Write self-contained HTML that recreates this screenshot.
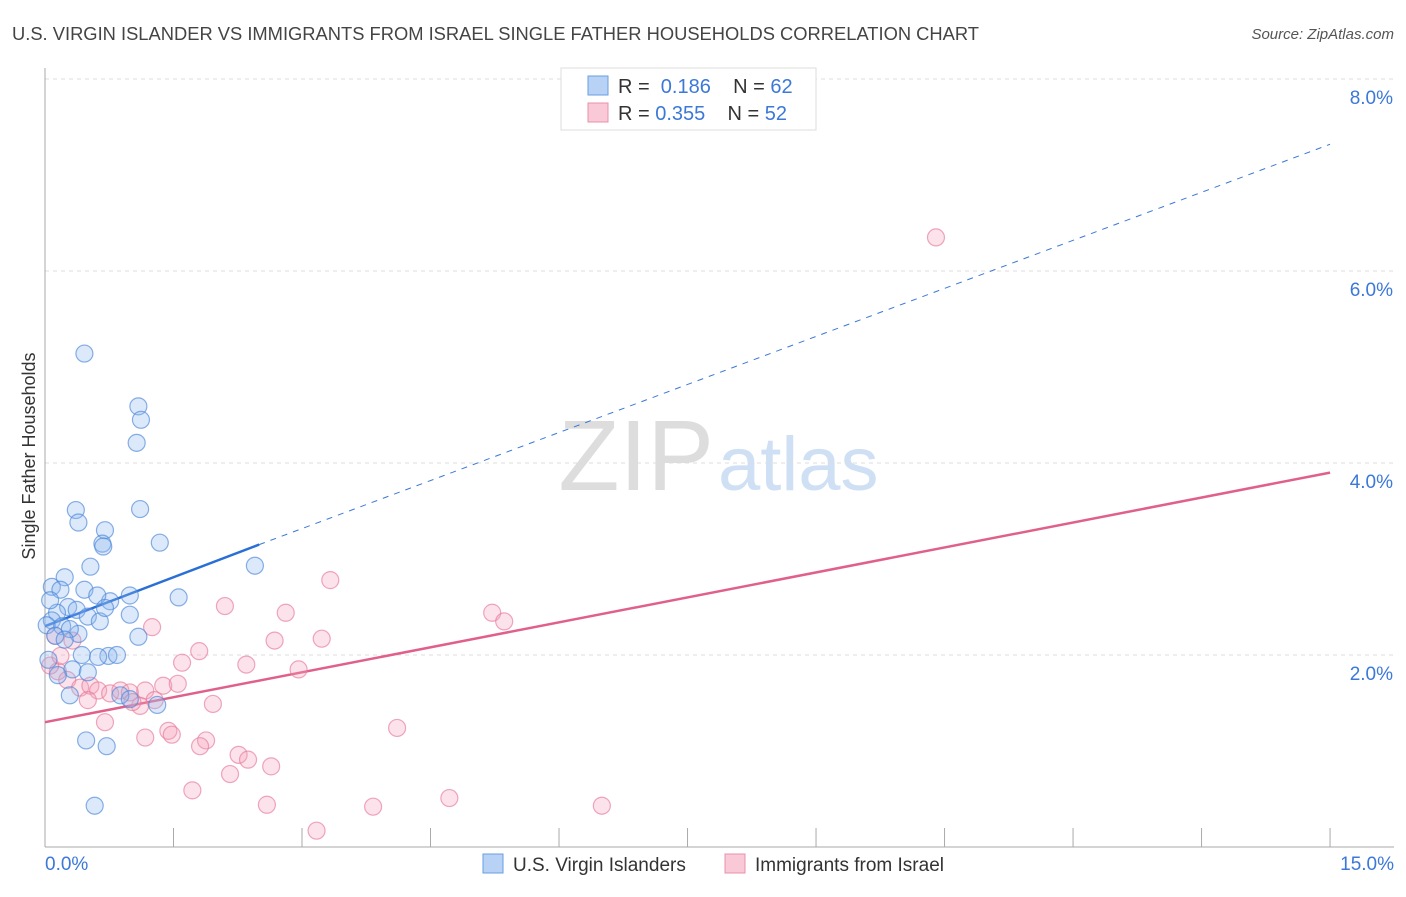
<!DOCTYPE html>
<html><head><meta charset="utf-8"><style>
body{margin:0;background:#fff;font-family:"Liberation Sans",sans-serif;}
svg text{font-family:"Liberation Sans",sans-serif;}
</style></head><body>
<svg id="chart" width="1406" height="892">
<text x="12" y="40" font-size="18" fill="#444" textLength="967" lengthAdjust="spacingAndGlyphs">U.S. VIRGIN ISLANDER VS IMMIGRANTS FROM ISRAEL SINGLE FATHER HOUSEHOLDS CORRELATION CHART</text>
<text x="1394" y="39" font-size="15" fill="#555" font-style="italic" text-anchor="end">Source: ZipAtlas.com</text>
<text x="35" y="456" font-size="18" fill="#333" transform="rotate(-90 35 456)" text-anchor="middle">Single Father Households</text>
<text x="714" y="490" font-size="100" fill="#ddd" text-anchor="end" font-family="Liberation Serif">ZIP</text>
<text x="718" y="490" font-size="76" fill="#cfe0f5">atlas</text>
<g id="grid"></g><g id="axes"></g><g id="lines"></g><g id="pts"></g>
<g>
<rect x="561" y="68" width="255" height="62" fill="#fff" stroke="#ddd"/>
<rect x="588" y="76" width="20" height="19" fill="#b8d2f5" stroke="#6a9ee0"/>
<text x="618" y="93" font-size="20" fill="#333">R = <tspan fill="#3b78d8">&#160;0.186</tspan>&#160;&#160;&#160;&#160;N = <tspan fill="#3b78d8">62</tspan></text>
<rect x="588" y="103" width="20" height="19" fill="#f9c9d7" stroke="#e890ab"/>
<text x="618" y="120" font-size="20" fill="#333">R = <tspan fill="#3b78d8">0.355</tspan>&#160;&#160;&#160;&#160;N = <tspan fill="#3b78d8">52</tspan></text>
</g>
<g>
<rect x="483" y="854" width="20" height="19" fill="#b8d2f5" stroke="#6a9ee0"/>
<text x="513" y="871" font-size="19" fill="#333">U.S. Virgin Islanders</text>
<rect x="725" y="854" width="20" height="19" fill="#f9c9d7" stroke="#e890ab"/>
<text x="755" y="871" font-size="19" fill="#333">Immigrants from Israel</text>
</g>
</svg>
<script>
const yTicks=[2,4,6,8];
const xTickLabels=["0.0%","15.0%"];
const blueX=[0.46,1.09,1.12,1.07,0.36,1.11,0.39,0.7,0.67,0.68,1.34,2.45,0.53,0.23,0.08,0.18,0.46,0.99,1.56,0.76,0.61,0.27,0.37,0.14,0.5,0.99,0.08,0.64,0.02,0.2,0.39,1.09,0.12,0.29,0.43,0.74,0.84,0.62,0.32,0.5,0.15,0.29,0.88,0.99,1.31,0.48,0.72,0.58,0.06,0.04,0.23,0.7];
const blueY=[5.14,4.59,4.45,4.21,3.51,3.52,3.38,3.3,3.16,3.13,3.17,2.93,2.92,2.81,2.71,2.68,2.68,2.62,2.6,2.56,2.62,2.5,2.47,2.44,2.4,2.42,2.36,2.35,2.31,2.3,2.22,2.19,2.2,2.27,2.0,1.99,2.0,1.98,1.85,1.82,1.79,1.58,1.58,1.54,1.48,1.11,1.05,0.43,2.57,1.95,2.16,2.49];
const pinkX=[10.4,3.33,2.1,2.81,5.22,5.36,1.25,2.68,3.23,1.8,0.12,1.6,2.35,0.32,2.96,0.15,0.26,0.41,0.53,0.62,0.76,0.88,0.99,1.17,1.38,1.55,1.28,1.11,1.96,0.7,4.11,1.44,1.48,1.17,1.88,1.81,2.26,2.37,2.16,2.64,1.72,2.59,3.83,4.72,6.5,3.17,0.06,0.18,0.5,1.02];
const pinkY=[6.35,2.78,2.51,2.44,2.44,2.35,2.29,2.15,2.17,2.04,2.2,1.92,1.9,2.15,1.85,1.83,1.74,1.66,1.68,1.63,1.6,1.63,1.61,1.63,1.68,1.7,1.53,1.47,1.49,1.3,1.24,1.21,1.17,1.14,1.11,1.05,0.96,0.91,0.76,0.84,0.59,0.44,0.42,0.51,0.43,0.17,1.89,1.99,1.53,1.51];
const blueFit=[[0,2.3],[2.5,3.15]], blueDash=[[2.5,3.15],[15,7.32]];
const pinkFit=[[0,1.3],[15,3.9]];
const X=v=>45+v*85.67, Y=v=>847-v*96;
const NS="http://www.w3.org/2000/svg";
function mk(p,t,a){const e=document.createElementNS(NS,t);for(const k in a)e.setAttribute(k,a[k]);document.getElementById(p).appendChild(e);return e;}
yTicks.forEach(t=>{
 const l=mk('grid','line',{x1:45,x2:1394,y1:Y(t),y2:Y(t),stroke:'#ddd','stroke-dasharray':'4,4'});
 
 
 const tx=mk('grid','text',{x:1393,y:Y(t)+25,'font-size':19,fill:'#3b78d8','text-anchor':'end'});
 tx.textContent=t.toFixed(1)+'%';
 
 
});
mk('axes','line',{x1:45,x2:45,y1:68,y2:847,stroke:'#aaa'});
const xa=mk('axes','line',{x1:45,x2:1394,y1:847,y2:847,stroke:'#aaa'});


for(let i=0;i<=10;i++){mk('axes','line',{x1:X(i*1.5),x2:X(i*1.5),y1:828,y2:847,stroke:'#aaa'});}
const t0=mk('axes','text',{x:45,y:870,'font-size':19,fill:'#3b78d8'});t0.textContent=xTickLabels[0];


const t1=mk('axes','text',{x:1394,y:870,'font-size':19,fill:'#3b78d8','text-anchor':'end'});t1.textContent=xTickLabels[1];


function pts(xs,ys,fill,stroke,name){xs.forEach((x,i)=>{const c=mk('pts','circle',{cx:X(x),cy:Y(ys[i]),r:8.5,fill:fill,'fill-opacity':0.3,stroke:stroke,'stroke-opacity':0.65,'stroke-width':1.2});
 
 });}
pts(pinkX,pinkY,'#f4a0b8','#e67a9a','point-israel');
pts(blueX,blueY,'#8bb6ee','#4a86d8','point-virgin-islanders');
let l=mk('lines','line',{x1:X(blueDash[0][0]),y1:Y(blueDash[0][1]),x2:X(blueDash[1][0]),y2:Y(blueDash[1][1]),stroke:'#3b78d8','stroke-dasharray':'6,6','stroke-width':1});


l=mk('lines','line',{x1:X(blueFit[0][0]),y1:Y(blueFit[0][1]),x2:X(blueFit[1][0]),y2:Y(blueFit[1][1]),stroke:'#2a6fd6','stroke-width':2.5});


l=mk('lines','line',{x1:X(pinkFit[0][0]),y1:Y(pinkFit[0][1]),x2:X(pinkFit[1][0]),y2:Y(pinkFit[1][1]),stroke:'#e0608a','stroke-width':2.5});


</script>
</body></html>
